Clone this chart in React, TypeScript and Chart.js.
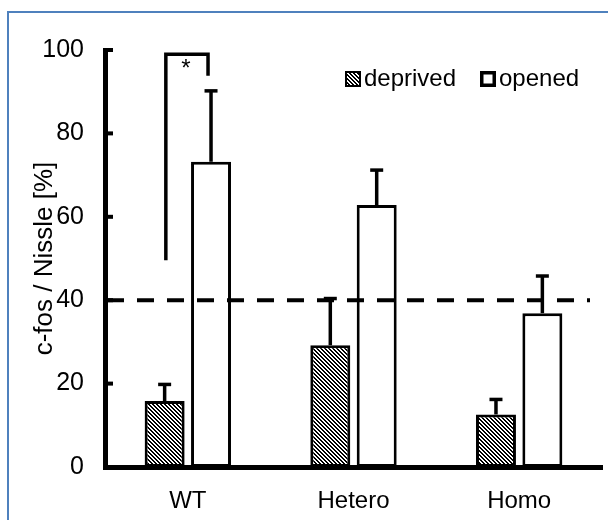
import React, { useEffect, useRef } from 'react';
import { Chart, registerables } from 'chart.js';

Chart.register(...registerables);

const categories = ['WT', 'Hetero', 'Homo'];
const seriesLabels = ['deprived', 'opened'];
const deprivedValues = [15.8, 29.2, 12.6];
const deprivedErrors = [4.0, 11.2, 3.6];
const openedValues = [73.2, 62.8, 36.9];
const openedErrors = [17.0, 8.4, 8.9];
const yTickValues = [0, 20, 40, 60, 80, 100];
const referenceValue = 40;
const bracketValues = [49.6, 99, 93.8]; // left start, top, right end
const yAxisTitle = 'c-fos / Nissle [%]';
const significanceMark = '*';

const FONT = "'Liberation Sans', Arial, Helvetica, sans-serif";
const FS = 24;

function makeHatch(ctx: CanvasRenderingContext2D): CanvasPattern | string {
  const n = 4;
  const c = document.createElement('canvas');
  c.width = n;
  c.height = n;
  const g = c.getContext('2d')!;
  const img = g.createImageData(n, n);
  for (let y = 0; y < n; y++) {
    for (let x = 0; x < n; x++) {
      const black = ((((x - y) % n) + n) % n) < 2;
      const v = black ? 0 : 255;
      const i = (y * n + x) * 4;
      img.data[i] = v;
      img.data[i + 1] = v;
      img.data[i + 2] = v;
      img.data[i + 3] = 255;
    }
  }
  g.putImageData(img, 0, 0);
  return ctx.createPattern(c, 'repeat') || '#666';
}

const framePlugin = {
  id: 'frame',
  beforeDraw(chart: any) {
    const ctx = chart.ctx;
    ctx.save();
    ctx.fillStyle = '#fff';
    ctx.fillRect(0, 0, chart.width, chart.height);
    ctx.strokeStyle = '#4f81bd';
    ctx.lineWidth = 2;
    ctx.strokeRect(8, 12, chart.width + 60, chart.height + 60);
    ctx.restore();
  },
};

const extrasPlugin = {
  id: 'extras',
  afterDatasetsDraw(chart: any) {
    const { ctx, chartArea, scales } = chart;
    const ys = scales.y;
    ctx.save();
    ctx.fillStyle = '#000';
    ctx.strokeStyle = '#000';

    // inner y ticks
    yTickValues.forEach((v) => {
      if (v === 0) return;
      const py = ys.getPixelForValue(v);
      ctx.fillRect(chartArea.left, py - 2, 8, 4);
    });

    // error bars
    const errs = [deprivedErrors, openedErrors];
    chart.data.datasets.forEach((ds: any, di: number) => {
      const meta = chart.getDatasetMeta(di);
      meta.data.forEach((el: any, i: number) => {
        const v = ds.data[i];
        const e = errs[di][i];
        const x = el.x;
        const p0 = ys.getPixelForValue(v);
        const p1 = ys.getPixelForValue(v + e);
        ctx.lineWidth = 3.5;
        ctx.lineCap = 'butt';
        ctx.beginPath();
        ctx.moveTo(x, p0);
        ctx.lineTo(x, p1);
        ctx.stroke();
        ctx.beginPath();
        ctx.moveTo(x - 6.5, p1);
        ctx.lineTo(x + 6.5, p1);
        ctx.stroke();
      });
    });

    // dashed reference line
    const ry = ys.getPixelForValue(referenceValue);
    ctx.save();
    ctx.setLineDash([17, 13]);
    ctx.lineWidth = 4;
    ctx.beginPath();
    ctx.moveTo(chartArea.left + 2, ry);
    ctx.lineTo(chartArea.right - 12, ry);
    ctx.stroke();
    ctx.restore();

    // significance bracket
    const m0 = chart.getDatasetMeta(0).data[0];
    const m1 = chart.getDatasetMeta(1).data[0];
    const lx = m0.x + 1.2;
    const rx = m1.x - 3;
    const yTop = ys.getPixelForValue(bracketValues[1]);
    ctx.lineWidth = 3.5;
    ctx.lineJoin = 'miter';
    ctx.beginPath();
    ctx.moveTo(lx, ys.getPixelForValue(bracketValues[0]));
    ctx.lineTo(lx, yTop);
    ctx.lineTo(rx, yTop);
    ctx.lineTo(rx, ys.getPixelForValue(bracketValues[2]));
    ctx.stroke();
    ctx.font = `${FS}px ${FONT}`;
    ctx.textAlign = 'center';
    ctx.textBaseline = 'alphabetic';
    ctx.fillText(significanceMark, (lx + rx) / 2 - 1, yTop + 22);

    // legend
    const ds = chart.data.datasets;
    const boxes = [345, 480];
    ctx.textAlign = 'left';
    ctx.textBaseline = 'middle';
    ds.forEach((d: any, i: number) => {
      const bx = boxes[i];
      const by = 71;
      ctx.fillStyle = d.backgroundColor;
      ctx.fillRect(bx, by, 16, 16);
      ctx.strokeStyle = '#000';
      ctx.lineWidth = i === 0 ? 2 : 3.5;
      const h = ctx.lineWidth / 2;
      ctx.strokeRect(bx + h, by + h, 16 - 2 * h, 16 - 2 * h);
      ctx.fillStyle = '#000';
      ctx.fillText(d.label, bx + 19, by + 8);
    });

    ctx.restore();
  },
};

export default function App() {
  const ref = useRef<HTMLCanvasElement | null>(null);

  useEffect(() => {
    const canvas = ref.current;
    if (!canvas) return;
    const ctx = canvas.getContext('2d')!;
    const hatch = makeHatch(ctx);

    const chart = new Chart(canvas, {
      type: 'bar',
      data: {
        labels: categories,
        datasets: [
          {
            label: seriesLabels[0],
            data: deprivedValues,
            backgroundColor: hatch as any,
            borderColor: '#000',
            borderWidth: 3,
            borderSkipped: false,
            barPercentage: 0.862,
            categoryPercentage: 0.56,
          },
          {
            label: seriesLabels[1],
            data: openedValues,
            backgroundColor: '#fff',
            borderColor: '#000',
            borderWidth: 3,
            borderSkipped: false,
            barPercentage: 0.862,
            categoryPercentage: 0.56,
          },
        ],
      },
      options: {
        animation: false,
        responsive: false,
        devicePixelRatio: 1,
        layout: { padding: { left: 0, top: 50, right: 6, bottom: 0 } },
        plugins: {
          legend: { display: false },
          tooltip: { enabled: false },
          title: { display: false },
        },
        scales: {
          x: {
            type: 'category',
            offset: true,
            grid: { display: false, drawTicks: false },
            border: { display: true, width: 5, color: '#000' },
            ticks: {
              font: { family: FONT, size: FS },
              color: '#000',
              padding: 20,
              maxRotation: 0,
              autoSkip: false,
            },
            afterFit: (s: any) => {
              s.height = 53;
            },
          },
          y: {
            min: 0,
            max: 100,
            afterBuildTicks: (s: any) => {
              s.ticks = yTickValues.map((v) => ({ value: v }));
            },
            ticks: {
              font: { family: FONT, size: 25 },
              color: '#000',
              padding: 21,
            },
            grid: { display: false, drawTicks: false },
            border: { display: true, width: 5, color: '#000' },
            title: {
              display: true,
              text: yAxisTitle,
              font: { family: FONT, size: 26 },
              color: '#000',
              padding: { top: 29, bottom: 0 },
            },
            afterFit: (s: any) => {
              s.width = 105;
            },
          },
        },
      } as any,
      plugins: [framePlugin, extrasPlugin],
    });

    return () => {
      chart.destroy();
    };
  }, []);

  return (
    <div style={{ position: 'absolute', left: 0, top: 0, width: 608, height: 520, background: '#fff' }}>
      <canvas ref={ref} width={608} height={520} style={{ display: 'block' }} />
    </div>
  );
}
